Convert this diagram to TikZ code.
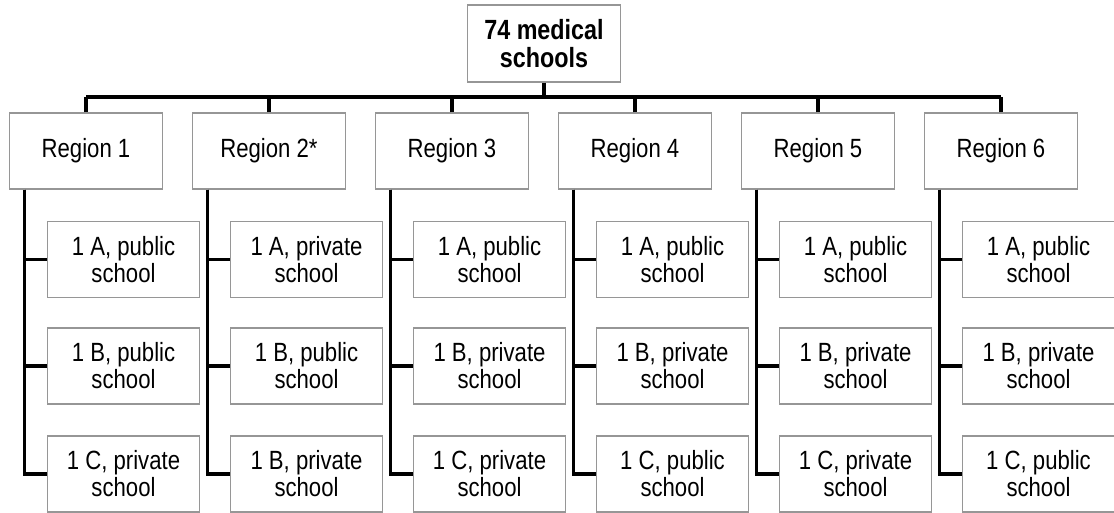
\documentclass[tikz,border=0pt]{standalone}
\usepackage{fontspec}
\setmainfont[FakeStretch=0.84]{Liberation Sans}
\usepackage{xcolor}
\usepackage{tikz}
\usetikzlibrary{calc,positioning}
\definecolor{boxgray}{RGB}{150,150,150}
\tikzset{
	node distance =0.3 cm and 0.3 cm,
	unit/.style ={rectangle, draw=boxgray, line width=0.8pt, fill=white, minimum width = 3.05 cm, minimum height = 1.52 cm, align=center, inner sep=1pt, font=\fontsize{15pt}{15.4pt}\selectfont},
	top/.style ={unit, minimum height = 1.54 cm, font=\fontsize{15.8pt}{15.8pt}\selectfont\bfseries},
	link/.style = {black, line width=2pt}
}

\begin{document}
\begin{tikzpicture}
    \useasboundingbox (0,0) rectangle (22.28,-10.24);
    \node[top] (all) at (10.88,-0.87) {74 medical\\schools};
    \coordinate (bus) at (10.88,-1.94);

    \node[unit] (r1) at (1.72,-3.02) {Region 1};
    \node[unit] (r2) at (5.38,-3.02) {Region 2*};
    \node[unit] (r3) at (9.04,-3.02) {Region 3};
    \node[unit] (r4) at (12.70,-3.02) {Region 4};
    \node[unit] (r5) at (16.36,-3.02) {Region 5};
    \node[unit] (r6) at (20.02,-3.02) {Region 6};

    % schools per region
    \foreach \r/\a/\b/\c in {1/{1 A, public}/{1 B, public}/{1 C, private},
                            2/{1 A, private}/{1 B, public}/{1 B, private},
                            3/{1 A, public}/{1 B, private}/{1 C, private},
                            4/{1 A, public}/{1 B, private}/{1 C, public},
                            5/{1 A, public}/{1 B, private}/{1 C, private},
                            6/{1 A, public}/{1 B, private}/{1 C, public}}{
        \node[unit] (a\r) at ($(r\r)+(0.75,-2.17)$) {\a\\school};
        \node[unit] (b\r) at ($(r\r)+(0.75,-4.30)$) {\b\\school};
        \node[unit] (c\r) at ($(r\r)+(0.75,-6.46)$) {\c\\school};
        \draw[link] ($(r\r.south west)+(0.31,0)$) |- (c\r.west);
        \draw[link] ($(r\r.south west)+(0.31,0)$) |- (a\r.west);
        \draw[link] ($(r\r.south west)+(0.31,0)$) |- (b\r.west);
        \draw[link] (r\r.north) -- (r\r.north |- bus);
    }

    \draw[link] (all.south) -- (bus);
    \draw[link] (r1.north |- bus) -- (r6.north |- bus);
\end{tikzpicture}
\end{document}
